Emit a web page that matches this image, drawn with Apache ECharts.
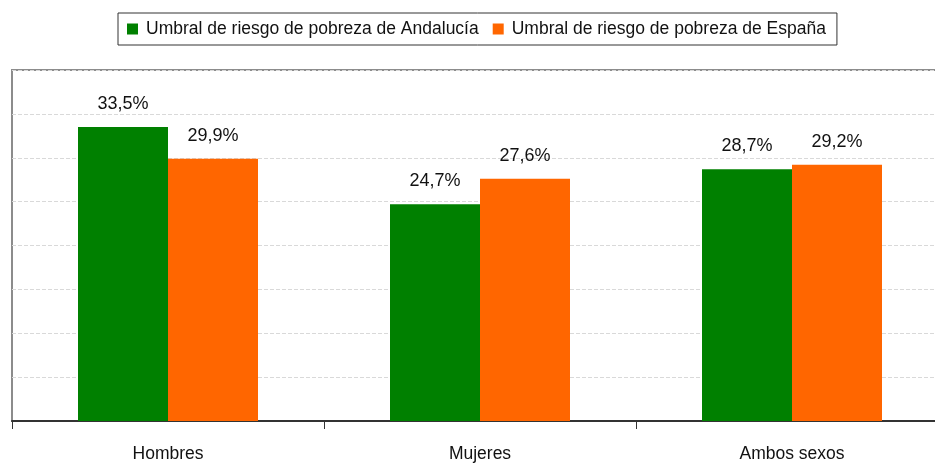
<!DOCTYPE html>
<html>
<head>
<meta charset="utf-8">
<script src="https://cdn.jsdelivr.net/npm/echarts@6/dist/echarts.min.js"></script>
<style>html,body{margin:0;padding:0;background:#fff;overflow:hidden;width:935px;height:463px}#c{width:948px;height:463px}</style>
</head>
<body>
<div id="c"></div>
<script>
var categories = ['Hombres', 'Mujeres', 'Ambos sexos'];
var seriesNames = ['Umbral de riesgo de pobreza de Andalucía', 'Umbral de riesgo de pobreza de España'];
var andalucia = [33.5, 24.7, 28.7];
var espana = [29.9, 27.6, 29.2];
var colors = ['#008000', '#ff6600'];

var FONT = 'Liberation Sans, Arial, sans-serif';
var chart = echarts.init(document.getElementById('c'), null, {renderer: 'canvas'});
function fmt(p) { return String(p.value.toFixed(1)).replace('.', ',') + '%'; }
var labelCfg = {show: true, position: 'top', distance: 14, formatter: fmt, color: '#111', fontSize: 18, fontFamily: FONT};
chart.setOption({
  animation: false,
  color: colors,
  legend: {
    left: 118, top: 13,
    padding: [7, 11, 7, 9],
    borderColor: '#333', borderWidth: 1,
    itemWidth: 11, itemHeight: 11, itemGap: 14,
    icon: 'rect',
    textStyle: {fontSize: 17.5, fontFamily: FONT, color: '#111', lineHeight: 18, padding: [0, 0, 0, 3]},
    data: seriesNames
  },
  grid: {
    left: 12, right: 0, top: 70, bottom: 38,
    show: true, borderColor: '#8c8c8c', borderWidth: 2, backgroundColor: 'transparent'
  },
  xAxis: {
    type: 'category',
    data: categories,
    axisLine: {lineStyle: {color: '#333', width: 2}},
    axisTick: {show: true, length: 8, lineStyle: {color: '#333', width: 1}},
    axisLabel: {fontSize: 17.5, fontFamily: FONT, color: '#111', margin: 24}
  },
  yAxis: {
    type: 'value', min: 0, max: 40, interval: 5,
    axisLine: {show: false}, axisTick: {show: false}, axisLabel: {show: false},
    splitLine: {lineStyle: {color: '#d9d9d9', type: 'dashed', width: 1}}
  },
  series: [
    {name: seriesNames[0], type: 'bar', data: andalucia, barWidth: 90, barGap: '0%', label: labelCfg, itemStyle: {color: colors[0]}},
    {name: seriesNames[1], type: 'bar', data: espana, barWidth: 90, barGap: '0%', label: labelCfg, itemStyle: {color: colors[1]}}
  ]
});
</script>
</body>
</html>
